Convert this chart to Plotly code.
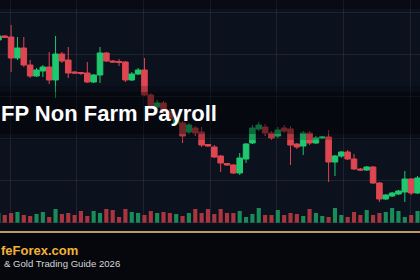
import plotly.graph_objects as go

# ---- data (price in points, volume in K) ----
idx = list(range(67))
open_ = [260, 264, 263, 242, 252, 235, 224, 229, 233, 220, 246, 240, 228, 227.5, 227, 218, 225, 247, 239, 238.5,
         238, 220, 226, 230, 205, 193, 197, 188, 177, 177, 168, 172, 168, 155.5, 153, 144, 136.5, 135, 127, 141,
         157, 171, 173, 167, 164, 172, 171, 156, 154, 167, 157, 162, 163, 138, 144, 148, 141, 131, 130, 133,
         117, 101, 104, 106, 108, 121, 107]
high = [266, 265, 275, 263, 263, 240, 232, 235, 248, 264, 248, 253, 229, 228, 238, 226, 253, 248, 240, 241,
        239, 228, 232, 242, 207, 200, 199, 191, 184, 179, 177, 174, 173, 156, 155, 145, 137, 136, 147, 157,
        175, 178, 176, 169, 173, 175, 174, 157, 169, 169, 164, 164, 170, 145, 149, 150, 146, 132, 134, 134,
        118, 106, 108, 110, 129, 122, 124]
low = [259, 262, 228, 240, 233, 222, 223, 223, 216, 202, 237, 222, 226, 225, 217, 217, 217, 238, 237, 234,
       218, 219, 225, 204, 190, 190, 185, 179, 175, 157, 166, 164, 153, 153, 142, 128, 134, 126, 125, 137,
       156, 169, 164, 160, 162, 167, 135, 151, 145, 155, 156, 161, 118, 124, 142, 140, 130, 129, 129, 116,
       98, 100, 103, 105, 98, 105, 106]
close = [264, 262.5, 242, 252, 235, 224, 230, 233, 220, 246, 239, 227, 227, 226.5, 218, 225, 247, 239, 238, 237.5,
         220, 226, 230, 205, 193, 197, 188, 181, 181, 164, 175, 167, 155, 154, 143, 137, 135, 127, 142, 156,
         172, 175, 167, 162, 170, 169, 155, 153, 167, 157, 162, 163, 138, 144, 148, 141, 131, 130, 133, 117,
         101, 105, 107, 109, 121, 107, 122]
volume = [100, 77, 97, 107, 77, 67, 87, 107, 57, 137, 87, 97, 77, 117, 67, 117, 97, 137, 127, 57,
          137, 107, 97, 77, 117, 97, 107, 97, 87, 67, 97, 137, 97, 137, 87, 137, 97, 97, 117, 57,
          87, 147, 77, 77, 127, 77, 97, 87, 67, 137, 97, 67, 57, 147, 77, 57, 107, 77, 127, 77,
          97, 107, 147, 117, 57, 77, 117]

title_text = "FP Non Farm Payroll"
brand_text = "feForex.com"
sub_text = "& Gold Trading Guide 2026"

# ---- styles ----
BG = "#0c111e"
UP, DOWN = "#1ec86e", "#de4651"
VUP, VDOWN = "#198c5a", "#a9363f"
W, H = 420, 280

vol_colors = [VUP if c >= o else VDOWN for o, c in zip(open_, close)]

fig = go.Figure()
fig.add_trace(go.Bar(x=idx, y=volume, marker_color=vol_colors, marker_line_width=0,
                     yaxis="y2", hoverinfo="skip", showlegend=False))
fig.add_trace(go.Candlestick(x=idx, open=open_, high=high, low=low, close=close,
                             increasing=dict(line=dict(color=UP, width=1), fillcolor=UP),
                             decreasing=dict(line=dict(color=DOWN, width=1), fillcolor=DOWN),
                             hoverinfo="skip", showlegend=False))

def py(px):
    return 1 - px / H

shapes = [
    dict(type="rect", xref="paper", yref="paper", x0=0, x1=1, y0=py(9), y1=1,
         fillcolor="rgba(0,0,0,0.3)", line_width=0, layer="above"),
    dict(type="rect", xref="paper", yref="paper", x0=0, x1=1, y0=py(140), y1=py(86),
         fillcolor="rgba(0,0,0,0.2)", line_width=0, layer="above"),
    dict(type="rect", xref="paper", yref="paper", x0=0, x1=1, y0=py(134), y1=py(92),
         fillcolor="rgba(0,0,0,0.35)", line_width=0, layer="above"),
    dict(type="rect", xref="paper", yref="paper", x0=0, x1=1, y0=py(231), y1=py(223),
         fillcolor="#0a0e19", line_width=0, layer="above"),
    dict(type="rect", xref="paper", yref="paper", x0=0, x1=1, y0=py(233), y1=py(231),
         fillcolor="#c09a62", line_width=0, layer="above"),
    dict(type="rect", xref="paper", yref="paper", x0=0, x1=1, y0=0, y1=py(233),
         fillcolor="#05070c", line_width=0, layer="above"),
]

annotations = [
    dict(text=title_text, xref="paper", yref="paper", x=0, y=py(113.5), xshift=-1,
         xanchor="left", yanchor="middle", showarrow=False,
         font=dict(family="Liberation Sans, Arial", size=22, color="white", weight="bold")),
    dict(text=brand_text, xref="paper", yref="paper", x=0, y=py(250), xshift=-1,
         xanchor="left", yanchor="middle", showarrow=False,
         font=dict(family="Liberation Sans, Arial", size=13, color="#f2b23a", weight="bold")),
    dict(text=sub_text, xref="paper", yref="paper", x=0, y=py(263.5), xshift=2,
         xanchor="left", yanchor="middle", showarrow=False,
         font=dict(family="Liberation Sans, Arial", size=9.6, color="#d6d6d6")),
]

fig.update_layout(
    width=W, height=H, margin=dict(l=0, r=0, t=0, b=0),
    paper_bgcolor=BG, plot_bgcolor=BG,
    boxgap=0.12, boxgroupgap=0, bargap=0.35,
    xaxis=dict(range=[0.252, 66.39], showgrid=True, gridcolor="rgba(255,255,255,0.08)", gridwidth=1,
               tick0=1.827, dtick=10.5, showticklabels=False, zeroline=False,
               rangeslider=dict(visible=False), fixedrange=True),
    yaxis=dict(range=[20, 300], showgrid=True, gridcolor="rgba(255,255,255,0.08)", gridwidth=1,
               tick0=288, dtick=42, showticklabels=False, zeroline=False, fixedrange=True),
    yaxis2=dict(range=[-573, 2227], overlaying="y", visible=False, fixedrange=True),
    shapes=shapes, annotations=annotations, showlegend=False,
)

fig.write_html("out.html", config=dict(displayModeBar=False, staticPlot=True))
